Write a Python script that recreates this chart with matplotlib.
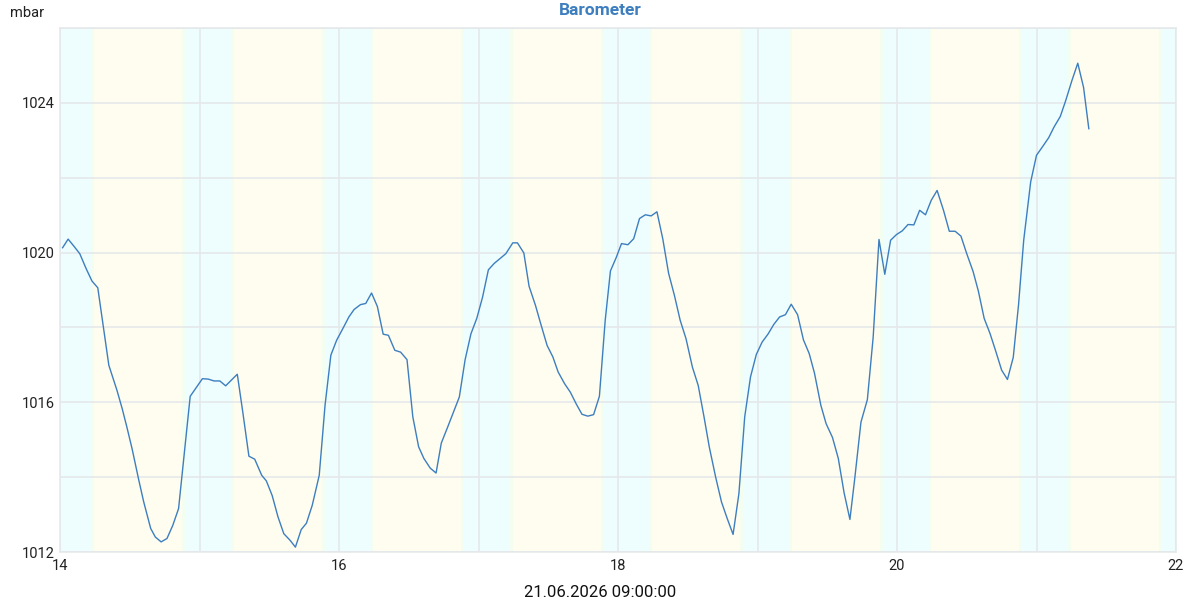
import numpy as np
import matplotlib
matplotlib.use("Agg")
import matplotlib.pyplot as plt

plt.rcParams['font.family'] = ['Roboto', 'DejaVu Sans']

# hours since 14.06. 00:00 and pressure in mbar
hours = [0.45, 1.4, 2.5, 3.4, 4.5, 5.5, 6.5, 8.4, 9.8, 10.7, 11.5, 12.4, 13.5, 14.4,
         15.6, 16.4, 17.4, 18.4, 19.4, 20.4, 22.4, 24.5, 25.5, 26.5, 27.5, 28.5,
         30.5, 31.4, 32.5, 33.5, 34.7, 35.5, 36.5, 37.5, 38.5, 39.6, 40.5, 41.5,
         42.4, 43.4, 44.6, 45.6, 46.6, 47.6, 48.8, 49.7, 50.6, 51.7, 52.6, 53.6,
         54.6, 55.6, 56.5, 57.6, 58.6, 59.7, 60.7, 61.7, 62.6, 63.7, 64.7, 65.6,
         66.7, 67.6, 68.7, 69.7, 70.7, 71.7, 72.7, 73.7, 74.7, 75.7, 76.7, 77.9,
         78.7, 79.8, 80.7, 81.8, 82.7, 83.8, 84.8, 85.7, 86.8, 87.8, 88.8, 89.8,
         90.8, 91.8, 92.8, 93.8, 94.7, 95.7, 96.6, 97.7, 98.7, 99.7, 100.7, 101.7,
         102.7, 103.7, 104.7, 105.7, 106.7, 107.7, 108.8, 109.8, 110.8, 111.7,
         112.8, 113.8, 114.8, 115.8, 116.8, 117.8, 118.8, 119.8, 120.8, 121.8,
         122.8, 123.8, 124.8, 125.8, 126.9, 127.9, 128.9, 129.8, 130.9, 131.8,
         132.9, 133.9, 134.9, 135.9, 136.7, 137.8, 138.9, 139.9, 140.9, 141.9,
         142.9, 143.9, 144.9, 145.9, 146.9, 147.9, 148.9, 149.9, 150.9, 152.0,
         153.0, 154.0, 155.0, 156.0, 157.1, 158.0, 159.0, 160.0, 161.0, 162.0,
         163.0, 164.0, 164.9, 165.8, 167.0, 168.0, 169.0, 170.1, 171.0, 172.1,
         173.0, 174.1, 175.1, 176.1, 177.0]
mbar = [1020.13, 1020.36, 1020.15, 1019.97, 1019.57, 1019.24, 1019.06, 1016.99,
        1016.32, 1015.83, 1015.34, 1014.76, 1013.96, 1013.34, 1012.63, 1012.40,
        1012.27, 1012.36, 1012.71, 1013.16, 1016.16, 1016.63, 1016.62, 1016.57,
        1016.57, 1016.44, 1016.75, 1015.79, 1014.56, 1014.48, 1014.05, 1013.90,
        1013.51, 1012.94, 1012.49, 1012.31, 1012.13, 1012.60, 1012.77, 1013.25,
        1014.05, 1015.92, 1017.26, 1017.66, 1018.01, 1018.28, 1018.48, 1018.61,
        1018.64, 1018.92, 1018.56, 1017.82, 1017.79, 1017.39, 1017.34, 1017.14,
        1015.61, 1014.81, 1014.50, 1014.24, 1014.11, 1014.91, 1015.34, 1015.70,
        1016.14, 1017.14, 1017.83, 1018.24, 1018.81, 1019.54, 1019.71, 1019.84,
        1019.97, 1020.26, 1020.26, 1019.99, 1019.10, 1018.59, 1018.10, 1017.52,
        1017.21, 1016.81, 1016.50, 1016.27, 1015.96, 1015.68, 1015.63, 1015.67,
        1016.16, 1018.19, 1019.51, 1019.87, 1020.24, 1020.21, 1020.37, 1020.91,
        1021.01, 1020.98, 1021.09, 1020.37, 1019.45, 1018.86, 1018.19, 1017.70,
        1016.94, 1016.45, 1015.61, 1014.81, 1014.00, 1013.34, 1012.89, 1012.47,
        1013.56, 1015.61, 1016.68, 1017.28, 1017.61, 1017.82, 1018.08, 1018.28,
        1018.34, 1018.62, 1018.34, 1017.67, 1017.30, 1016.78, 1015.92, 1015.43,
        1015.06, 1014.50, 1013.58, 1012.87, 1013.92, 1015.47, 1016.07, 1017.74,
        1020.35, 1019.42, 1020.33, 1020.48, 1020.58, 1020.75, 1020.74, 1021.13,
        1021.01, 1021.40, 1021.66, 1021.13, 1020.57, 1020.57, 1020.44, 1019.97,
        1019.49, 1018.97, 1018.24, 1017.84, 1017.36, 1016.86, 1016.61, 1017.20,
        1018.59, 1020.33, 1021.89, 1022.60, 1022.82, 1023.07, 1023.35, 1023.64,
        1024.05, 1024.60, 1025.06, 1024.41, 1023.31]

days = [13, 14, 15, 16, 17, 18, 19, 20, 21, 22]
sunrise = 0.236   # fraction of day
sunset = 0.887
x_label = "21.06.2026 09:00:00"

night_col = "#eefdfd"
day_col = "#fefdf0"
dusk_col = "#f3fdf0"
line_col = "#3d7ebf"
grid_col = "#e4e8ea"

fig = plt.figure(figsize=(12, 6), dpi=100)
ax = fig.add_axes([0.05, 0.08, 0.93, 0.8733])

x = 14 + np.array(hours) / 24.0

# day / night background
tw = 0.02
for d in days:
    ax.axvspan(d + sunset, d + 1 + sunrise, color=night_col, lw=0, zorder=0)
    ax.axvspan(d + sunrise, d + sunset, color=day_col, lw=0, zorder=0)
    ax.axvspan(d + sunrise - tw / 2, d + sunrise + tw / 2, color=dusk_col, lw=0, zorder=0)
    ax.axvspan(d + sunset - tw / 2, d + sunset + tw / 2, color=dusk_col, lw=0, zorder=0)

ax.plot(x, mbar, color=line_col, lw=1.0, zorder=3)

ax.set_xlim(14, 22)
ax.set_ylim(1012, 1026)
ax.set_xticks(np.arange(14, 23, 1), minor=True)
ax.set_xticks(np.arange(14, 23, 2))
ax.set_yticks(np.arange(1012, 1027, 2), minor=True)
ax.set_yticks(np.arange(1012, 1025, 4))
ax.grid(True, which='both', color=grid_col, lw=1.1, zorder=1)
ax.set_axisbelow(True)
ax.tick_params(which='both', length=0, labelsize=10.5, colors='#222222')
ax.tick_params(axis='x', pad=5)
ax.tick_params(axis='y', pad=4)
for s in ax.spines.values():
    s.set_color(grid_col)
    s.set_linewidth(1.1)

fig.text(0.5, 0.983, "Barometer", ha='center', va='center', fontsize=12.5,
         fontweight='bold', color=line_col)
fig.text(0.008, 0.978, "mbar", ha='left', va='center', fontsize=10.5, color='#222222')
fig.text(0.5, 0.012, x_label, ha='center', va='center', fontsize=12, color='#111111')

fig.savefig("out.png", dpi=100)
